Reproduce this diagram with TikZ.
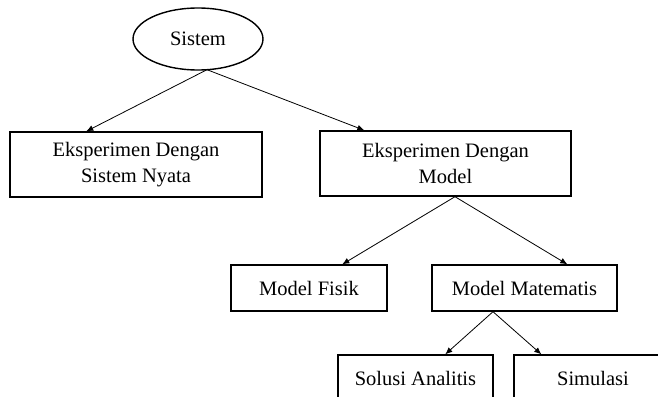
\documentclass[tikz,border=0pt]{standalone}
\usepackage{fontspec}
\setmainfont{Liberation Serif}
\usetikzlibrary{shapes.geometric,calc,arrows.meta}
\begin{document}
\begin{tikzpicture}[x=1pt,y=-1pt,
  box/.style={draw,line width=1.4pt,rectangle,inner sep=0pt,align=center,
    font=\fontsize{20.5}{26}\selectfont},
  oval/.style={draw,line width=1.4pt,ellipse,inner sep=0pt,
    font=\fontsize{20.5}{26}\selectfont},
  arr/.style={line width=0.8pt,-{Latex[length=7pt,width=6pt]}}]
\useasboundingbox (0,0) rectangle (658,396);
\clip (0,0) rectangle (658,396);
\node[oval,minimum width=130pt,minimum height=62pt] (sis) at (198,39) {Sistem};
\node[box,minimum width=252pt,minimum height=65pt] (b1) at (136,164.5) {Eksperimen Dengan\\Sistem Nyata};
\node[box,minimum width=251pt,minimum height=65pt] (b2) at (445.5,163.5) {Eksperimen Dengan\\Model};
\node[box,minimum width=156pt,minimum height=46pt] (mf) at (309,288) {Model Fisik};
\node[box,minimum width=185pt,minimum height=46pt] (mm) at (524.5,288) {Model Matematis};
\node[box,minimum width=155pt,minimum height=46pt] (sa) at (415.5,378) {Solusi Analitis};
\node[box,minimum width=158pt,minimum height=46pt] (si) at (593,378) {Simulasi};
\coordinate (s0) at ($(sis.south)+(9,-1)$);
\coordinate (b2s) at ($(b2.south)+(9.5,0)$);
\coordinate (mms) at ($(mm.south)+(-31.5,0)$);
\draw[arr] (s0) -- ($(b1.north west)+(77,0)$);
\draw[arr] (s0) -- ($(b2.north west)+(45,0)$);
\draw[arr] (b2s) -- ($(mf.north west)+(112,0)$);
\draw[arr] (b2s) -- ($(mm.north west)+(136,0)$);
\draw[arr] (mms) -- ($(sa.north west)+(108,0)$);
\draw[arr] (mms) -- ($(si.north west)+(28,0)$);
\end{tikzpicture}
\end{document}
